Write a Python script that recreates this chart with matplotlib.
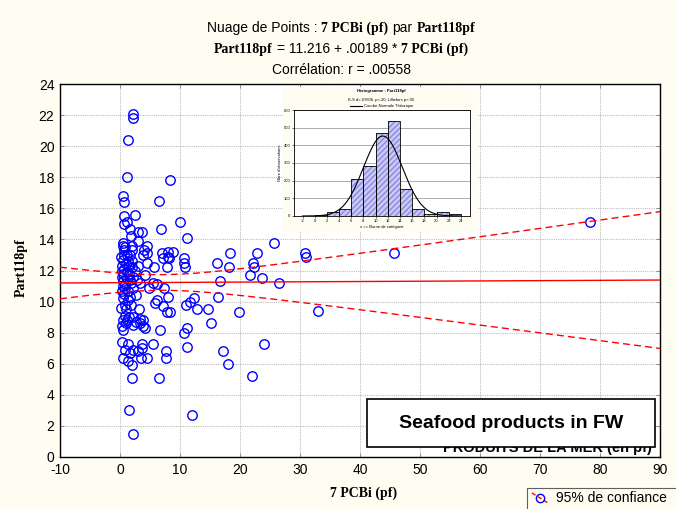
import numpy as np
import matplotlib
matplotlib.use("Agg")
import matplotlib.pyplot as plt
from matplotlib.patches import Rectangle
from matplotlib.lines import Line2D

# ---------------- data ----------------
x_pcb = [2.2, 2.2, 1.3, 1.2, 8.3, 0.5, 0.7, 6.5, 0.6, 2.5,
         0.7, 1.2, 1.7, 3.0, 3.7, 6.8, 10.0, 11.2, 0.5, 0.5,
         2.0, 3.0, 4.5, 4.0, 4.5, 0.7, 0.7, 1.2, 2.0, 3.8,
         7.0, 8.0, 8.8, 8.0, 7.2, 8.2, 10.7, 10.7, 0.5, 1.3,
         2.0, 4.5, 0.3, 2.0, 3.0, 5.7, 7.8, 10.8, 0.5, 1.5,
         2.2, 1.2, 0.5, 1.8, 0.5, 2.2, 1.3, 4.8, 5.5, 6.2,
         7.3, 8.0, 0.7, 0.5, 1.7, 0.8, 1.0, 0.8, 0.5, 1.2,
         0.3, 2.2, 3.2, 3.3, 2.7, 3.8, 1.5, 3.8, 7.2, 6.7,
         6.2, 5.8, 7.8, 8.3, 11.0, 11.7, 12.3, 12.8, 10.7, 11.2,
         0.5, 1.0, 2.2, 4.2, 3.3, 0.3, 1.3, 0.8, 2.2, 3.7,
         3.7, 5.5, 11.2, 3.0, 1.7, 0.5, 1.3, 2.0, 3.5, 4.5,
         7.7, 7.7, 2.0, 6.5, 1.5, 12.0, 2.2,
         16.2, 18.3, 18.2, 16.7, 21.7, 22.2, 22.3, 22.8, 23.7, 25.7,
         26.5, 30.8, 31.0, 33.0, 14.7, 16.3, 15.2, 19.8, 17.2, 18.0,
         24.0, 22.0, 45.7, 78.3,
         0.3, 0.8, 1.7, 2.5, 3.3, 4.2, 0.3,
         0.2, 1.0, 1.6, 0.4, 1.1, 0.9, 1.4, 0.2, 2.6, 1.9,
         0.6, 1.5, 2.8, 0.9, 1.8]
y_part = [22.1, 21.8, 20.4, 18.0, 17.8, 16.8, 16.4, 16.5, 15.5, 15.6,
          15.0, 15.1, 14.7, 14.5, 14.5, 14.7, 15.1, 14.1, 13.8, 13.6,
          13.6, 13.9, 13.6, 13.3, 13.1, 13.3, 13.0, 13.0, 13.3, 13.0,
          13.1, 13.2, 13.2, 12.9, 12.8, 12.8, 12.8, 12.5, 12.7, 12.6,
          12.6, 12.5, 12.3, 12.2, 12.3, 12.2, 12.2, 12.2, 11.8, 11.8,
          11.6, 11.5, 11.3, 11.2, 11.0, 10.9, 10.7, 10.9, 11.2, 11.1,
          10.9, 10.3, 10.5, 10.2, 10.3, 9.8, 9.5, 9.1, 8.8, 8.8,
          8.4, 9.0, 9.5, 8.9, 8.7, 8.8, 9.0, 8.4, 9.7, 8.2,
          10.1, 9.9, 9.3, 9.3, 9.8, 10.0, 10.2, 9.5, 8.0, 8.3,
          8.2, 8.6, 8.5, 8.3, 8.6, 7.4, 7.3, 6.9, 6.9, 7.3,
          7.0, 7.3, 7.1, 6.8, 6.7, 6.4, 6.2, 5.9, 6.4, 6.4,
          6.4, 6.8, 5.1, 5.1, 3.0, 2.7, 1.5,
          12.5, 13.1, 12.2, 11.3, 11.7, 12.5, 12.2, 13.1, 11.5, 13.8,
          11.2, 13.1, 12.9, 9.4, 9.5, 10.3, 8.6, 9.3, 6.8, 6.0,
          7.3, 5.2, 13.1, 15.1,
          12.0, 11.1, 11.4, 12.0, 11.2, 11.7, 10.7,
          12.9, 12.4, 13.0, 11.6, 11.9, 10.9, 10.1, 9.6, 10.4, 9.8,
          12.1, 12.3, 11.4, 13.5, 14.2]

intercept = 11.216
slope = 0.00189
corr_text = ".00558"

x_ticks = list(range(-10, 91, 10))
y_ticks = list(range(0, 25, 2))

# inset histogram
hist_edges = [0, 2, 4, 6, 8, 10, 12, 14, 16, 18, 20, 22, 24]
hist_counts = [8, 23, 42, 211, 281, 470, 538, 151, 42, 13, 23, 13]
hist_mean = 11.2
hist_sd = 3.2
hist_xticks = list(range(-2, 25, 2))
hist_yticks = list(range(0, 601, 100))

# ---------------- style ----------------
W, H = 676, 509
BG = "#FFFCF2"
SANS = "Liberation Sans"
SERIF = "Liberation Serif"
plt.rcParams["font.family"] = [SANS, "DejaVu Sans"]
plt.rcParams["axes.unicode_minus"] = False

fig = plt.figure(figsize=(W / 100, H / 100), dpi=100, facecolor=BG)


def fx(px):
    return px / W


def fy(py):
    return 1 - py / H


ax = fig.add_axes([fx(60), fy(457), fx(660) - fx(60), fy(84) - fy(457)])
ax.set_facecolor("white")
ax.set_xlim(-10, 90)
ax.set_ylim(0, 24)
ax.set_xticks(x_ticks)
ax.set_yticks(y_ticks)
ax.tick_params(direction="in", length=3, width=0.6, color="#808080",
               labelsize=10, top=True, right=True, labelcolor="black", pad=4)
for lab in ax.get_xticklabels() + ax.get_yticklabels():
    lab.set_fontfamily(SANS)
ax.grid(True, color="#BDBDBD", linestyle=(0, (1, 1)), linewidth=0.8)
ax.set_axisbelow(True)
for sp in ax.spines.values():
    sp.set_linewidth(1.0)
    sp.set_color("black")

xs = np.asarray(x_pcb, dtype=float)
ys = np.asarray(y_part, dtype=float)

# confidence band from data statistics, centred on the stated regression line
n = len(xs)
xbar = xs.mean()
sxx = ((xs - xbar) ** 2).sum()
fit = intercept + slope * xs
s = np.sqrt(((ys - fit) ** 2).sum() / (n - 2))
tval = 1.97
xl = np.linspace(-10, 90, 400)
yl = intercept + slope * xl
hw = tval * s * np.sqrt(1.0 / n + (xl - xbar) ** 2 / sxx)

ax.plot(xs, ys, linestyle="none", marker="o", markersize=6.8,
        markerfacecolor="none", markeredgecolor="#0000FF", markeredgewidth=1.0,
        zorder=3, clip_on=False)
ax.plot(xl, yl, color="#FF0000", linewidth=1.0, zorder=4)
ax.plot(xl, yl + hw, color="#FF0000", linewidth=1.0, linestyle=(0, (5, 3)), zorder=4)
ax.plot(xl, yl - hw, color="#FF0000", linewidth=1.0, linestyle=(0, (5, 3)), zorder=4)

# axis labels
fig.text(fx(364), fy(497), "7 PCBi (pf)", family=SERIF, weight="bold",
         fontsize=10, ha="center", va="baseline")
fig.text(fx(21), fy(268), "Part118pf", family=SERIF, weight="bold",
         fontsize=10, ha="center", va="center", rotation=90)

# ---------------- title with mixed fonts ----------------
renderer = fig.canvas.get_renderer()


def mixed_line(py_base, segs, fs=10):
    arts = []
    widths = []
    for txt, bold_serif, gap in segs:
        if bold_serif:
            t = fig.text(0, fy(py_base), txt, family=SERIF, weight="bold",
                         fontsize=fs, va="baseline", ha="left")
        else:
            t = fig.text(0, fy(py_base), txt, family=SANS,
                         fontsize=fs, va="baseline", ha="left")
        arts.append((t, gap))
        widths.append(t.get_window_extent(renderer).width)
    space = fs * 100 / 72 * 0.28
    total = sum(widths) + sum(g * space for _, g in arts)
    x0 = (W - total) / 2 + 3
    for (t, g), w in zip(arts, widths):
        x0 += g * space
        t.set_x(fx(x0))
        x0 += w


mixed_line(32, [("Nuage de Points :", False, 0), ("7 PCBi (pf)", True, 1),
                ("par", False, 1), ("Part118pf", True, 1)])
mixed_line(53, [("Part118pf", True, 0), ("= 11.216 + .00189 *", False, 1),
                ("7 PCBi (pf)", True, 1)])
mixed_line(74, [("Corrélation: r = " + corr_text, False, 0)])

# ---------------- inset histogram ----------------
panel = Rectangle((fx(283), fy(232)), fx(478) - fx(283), fy(87) - fy(232),
                  transform=fig.transFigure, facecolor=BG, edgecolor="none",
                  zorder=5)
fig.patches.append(panel)

iax = fig.add_axes([fx(294), fy(216), fx(470) - fx(294), fy(110) - fy(216)])
iax.set_zorder(6)
iax.set_facecolor("white")
iax.set_xlim(-3.4, 25.5)
iax.set_ylim(0, 600)
iax.set_xticks(hist_xticks)
iax.set_yticks(hist_yticks)
iax.tick_params(labelsize=3, length=1.5, width=0.4, pad=1)
iax.yaxis.grid(True, color="#A0A0A0", linewidth=0.6)
iax.set_axisbelow(True)
for sp in iax.spines.values():
    sp.set_linewidth(0.6)
lefts = hist_edges[:-1]
widths_b = [hist_edges[i + 1] - hist_edges[i] for i in range(len(lefts))]
iax.bar(lefts, hist_counts, width=widths_b, align="edge", color="#C9C9FA",
        edgecolor="#8A8AD8", linewidth=0, hatch="//////", zorder=2)
iax.bar(lefts, hist_counts, width=widths_b, align="edge", color="none",
        edgecolor="black", linewidth=0.6, zorder=3)
xc = np.linspace(-2, 24, 300)
N = sum(hist_counts)
bw = 2
yc = N * bw / (np.sqrt(2 * np.pi) * hist_sd) * np.exp(-0.5 * ((xc - hist_mean) / hist_sd) ** 2)
iax.plot(xc, yc, color="black", linewidth=0.8, zorder=4)
iax.set_xlabel("x <= Borne de catégorie", fontsize=3, labelpad=1)
iax.set_ylabel("Nbre d'observations", fontsize=3, labelpad=1)
fig.text(fx(381), fy(92), "Histogramme : Part118pf", fontsize=3, ha="center",
         va="baseline", weight="bold", zorder=7)
fig.text(fx(381), fy(101), "K-S d=.07606, p<.20; Lilliefors p<.05", fontsize=3,
         ha="center", va="baseline", zorder=7)
fig.lines.append(Line2D([fx(350), fx(362)], [fy(105.5), fy(105.5)],
                        transform=fig.transFigure, color="black", linewidth=0.8,
                        zorder=7))
fig.text(fx(364), fy(107), "Courbe Normale Théorique", fontsize=3, ha="left",
         va="baseline", zorder=7)

# ---------------- annotation box ----------------
fig.text(fx(652), fy(452), "PRODUITS DE LA MER (en pf)", fontsize=10.5,
         weight="bold", ha="right", va="baseline", zorder=8)
box = Rectangle((fx(367), fy(447)), fx(655) - fx(367), fy(399) - fy(447),
                transform=fig.transFigure, facecolor="white", edgecolor="black",
                linewidth=1.2, zorder=9)
fig.patches.append(box)
fig.text(fx(511), fy(423), "Seafood products in FW", fontsize=14,
         weight="bold", ha="center", va="center", zorder=10)

# ---------------- legend ----------------
leg = Rectangle((fx(527), fy(515)), fx(690) - fx(527), fy(488) - fy(515),
                transform=fig.transFigure, facecolor=BG, edgecolor="#606060",
                linewidth=0.8, zorder=8, clip_on=False)
fig.patches.append(leg)
fig.lines.append(Line2D([fx(532), fx(548)], [fy(493), fy(503)],
                        transform=fig.transFigure, color="#FF0000",
                        linewidth=1.0, linestyle=(0, (3, 2)), zorder=9))
fig.lines.append(Line2D([fx(540)], [fy(498)], transform=fig.transFigure,
                        marker="o", markersize=6, markerfacecolor="none",
                        markeredgecolor="#0000FF", markeredgewidth=1.0,
                        linestyle="none", zorder=10))
fig.text(fx(556), fy(498), "95% de confiance", fontsize=10, ha="left",
         va="center", zorder=10)

fig.savefig("out.png", dpi=100, facecolor=BG)
